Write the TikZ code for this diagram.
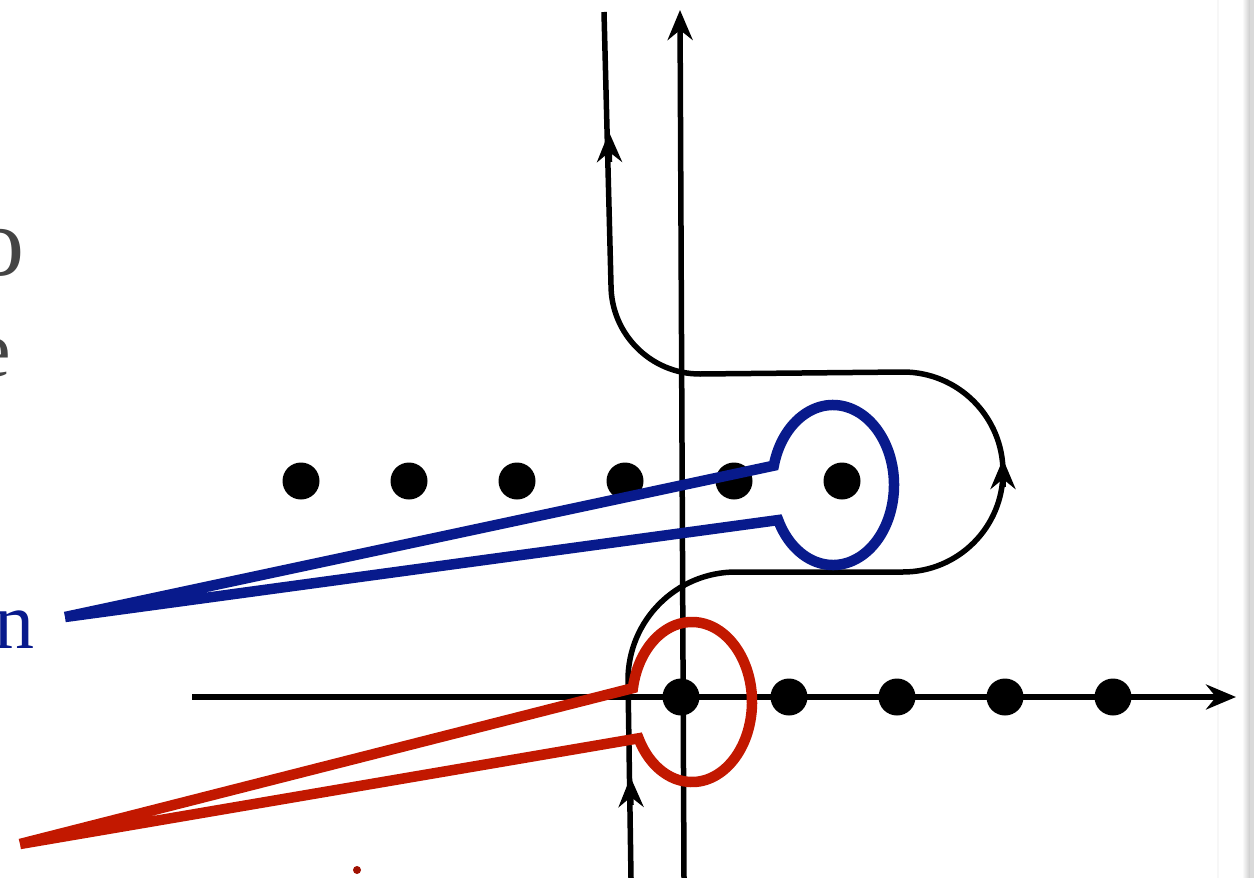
\documentclass[tikz,border=0pt]{standalone}
\usepackage{fontspec}
\setmainfont{Liberation Serif}
\usetikzlibrary{arrows.meta,calc}
\definecolor{kblue}{RGB}{8,26,140}
\definecolor{kred}{RGB}{194,24,0}
\definecolor{kdred}{RGB}{160,16,0}
\definecolor{kgray}{RGB}{68,68,68}
\tikzset{
  axis/.style={line width=5.5pt,-{Stealth[length=30pt,width=25pt,inset=10pt]}},
  contour/.style={line width=5.5pt},
  ctip/.style={line width=5.5pt,-{Stealth[length=30pt,width=25pt,inset=10pt]}},
  keyhole/.style={line width=10.5pt,line cap=butt,line join=miter},
  pole/.style={circle,fill=black,inner sep=0pt,minimum size=37pt},
  cut/.style={inner sep=0pt,font=\fontsize{80}{80}\selectfont}
}
\begin{document}
\begin{tikzpicture}[x=1pt,y=-1pt]
\useasboundingbox (0,0) rectangle (1254,878);
\fill[white] (0,0) rectangle (1254,878);
\clip (0,0) rectangle (1254,878);
% right edge of page
\fill[gray!6] (1217,0) rectangle (1219,878);
\shade[left color=white,right color=gray!40] (1242,0) rectangle (1250,878);
\fill[gray!30] (1250,0) rectangle (1254,878);

% clipped text fragments
\node[cut,font=\fontsize{98}{98}\selectfont,text=kgray,anchor=base east] (to) at (25,275) {o};
\node[cut,text=kgray,anchor=base east] (te) at (11,376) {e};
\node[cut,text=kblue,anchor=base east] (tn) at (35,648) {n};
\fill[kdred] (357,870) circle[radius=4pt];

% axes
\coordinate (xs) at (192,697);
\coordinate (xe) at (1236,697);
\coordinate (ys) at (684,878);
\coordinate (ye) at (680,10);
\draw[axis] (xs) -- (xe);
\draw[axis] (ys) -- (ye);

% poles
\foreach \i/\x in {1/301,2/409,3/517,4/625,5/734,6/842}
  \node[pole] (u\i) at (\x,481) {};
\foreach \i/\x in {1/681,2/789,3/897,4/1005,5/1113}
  \node[pole] (b\i) at (\x,697) {};

% contour
\coordinate (c0) at (631,878);
\coordinate (c1) at (628,680);
\coordinate (c2) at (903,572);
\coordinate (c3) at (700,374);
\coordinate (c4) at (604,12);
\draw[contour] (c0) -- (c1) arc[start angle=180,end angle=90,radius=108pt]
  -- (c2) arc[start angle=-90,end angle=90,radius=100pt]
  -- (c3) arc[start angle=-90,end angle=-180,radius=89pt]
  -- (c4);
\coordinate (a1s) at (631,805); \coordinate (a1e) at (630.5,777);
\coordinate (a2s) at (1003,487); \coordinate (a2e) at (1003,459);
\coordinate (a3s) at (609.5,162); \coordinate (a3e) at (609,132);
\draw[ctip] (a1s) -- (a1e);
\draw[ctip] (a2s) -- (a2e);
\draw[ctip] (a3s) -- (a3e);

% blue keyhole
\coordinate (bc) at (833,485);
\coordinate (bt) at (65,617);
\coordinate (bu) at ([shift={(bc)}]166:61pt and 80pt);
\draw[keyhole,kblue] (bt) -- (bu) arc[start angle=166,end angle=-154,x radius=61pt,y radius=80pt] -- (bt);

% red keyhole
\coordinate (rc) at (692,702);
\coordinate (rt) at (20,844);
\coordinate (ru) at ([shift={(rc)}]170:60pt and 80pt);
\draw[keyhole,kred] (rt) -- (ru) arc[start angle=170,end angle=-153,x radius=60pt,y radius=80pt] -- (rt);
\end{tikzpicture}
\end{document}
